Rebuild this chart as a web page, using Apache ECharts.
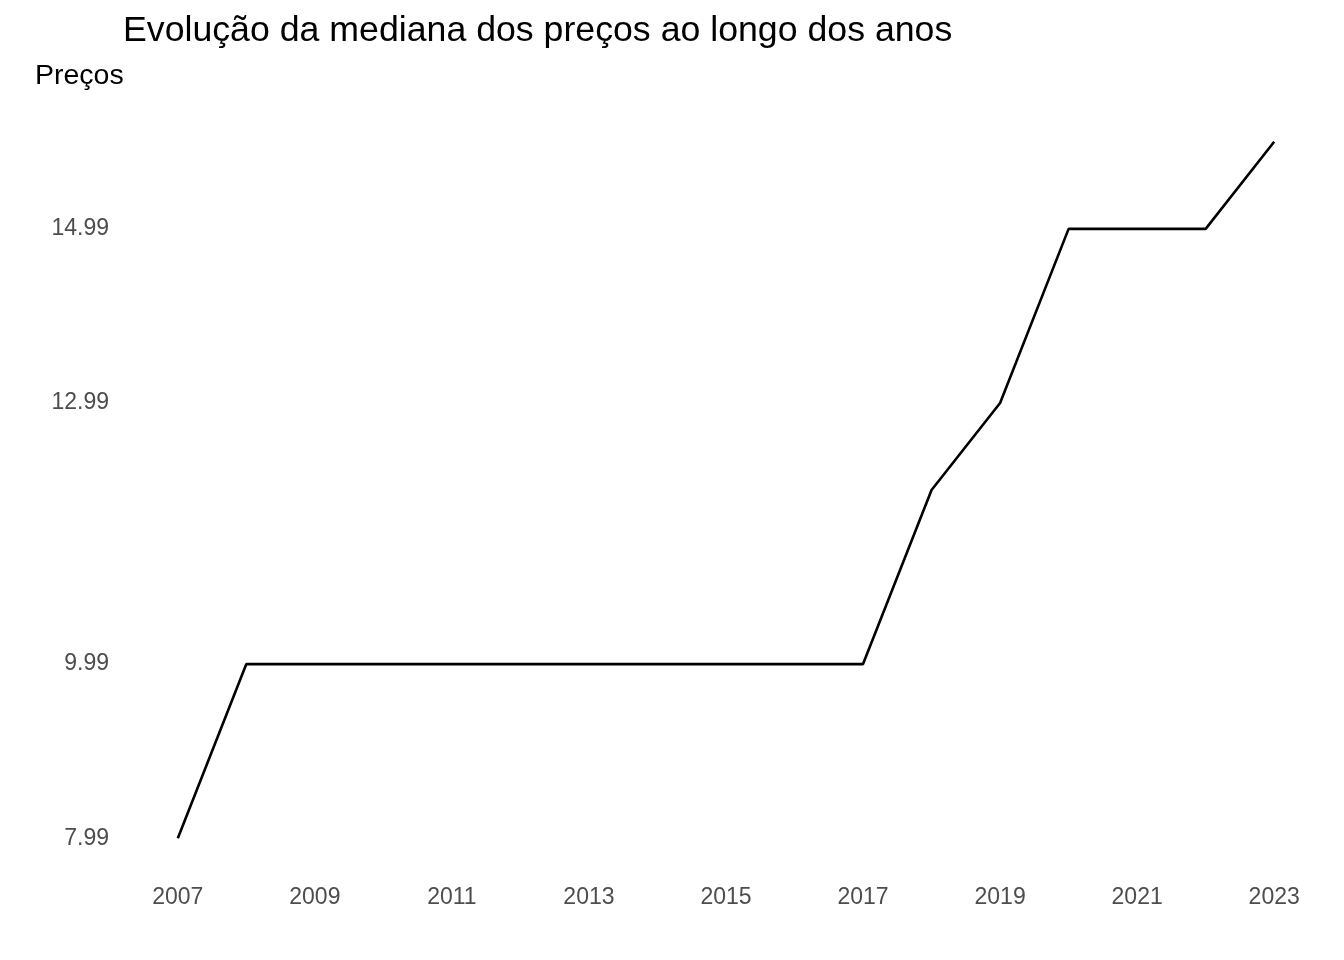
<!DOCTYPE html>
<html>
<head>
<meta charset="utf-8">
<script src="https://cdn.jsdelivr.net/npm/echarts@6/dist/echarts.min.js"></script>
<style>html,body{margin:0;padding:0;background:#fff}#c{width:1344px;height:960px}</style>
</head>
<body>
<div id="c"></div>
<script>
const years = [2007,2008,2009,2010,2011,2012,2013,2014,2015,2016,2017,2018,2019,2020,2021,2022,2023];
const prices = [7.99,9.99,9.99,9.99,9.99,9.99,9.99,9.99,9.99,9.99,9.99,11.99,12.99,14.99,14.99,14.99,15.99];
const yTicks = [7.99,9.99,12.99,14.99];
const xTicks = [2007,2009,2011,2013,2015,2017,2019,2021,2023];

const chart = echarts.init(document.getElementById('c'));
chart.setOption({
  animation: false,
  backgroundColor: '#ffffff',
  title: {
    text: 'Evolução da mediana dos preços ao longo dos anos',
    left: 118, top: 8,
    textStyle: {fontFamily: 'Liberation Sans', fontSize: 35.7, fontWeight: 'normal', color: '#000'}
  },
  graphic: [{
    type: 'text', left: 35, top: 62,
    style: {text: 'Preços', fontFamily: 'Liberation Sans', fontSize: 28.5, fill: '#000'}
  }],
  grid: {left: 123, right: 15, top: 107, bottom: 87, containLabel: false},
  xAxis: {
    type: 'value', min: 2006.2, max: 2023.8,
    axisLine: {show: false}, axisTick: {show: false}, splitLine: {show: false},
    axisLabel: {customValues: xTicks, margin: 13, color: '#4d4d4d', fontFamily: 'Liberation Sans', fontSize: 23, formatter: v => String(v)}
  },
  yAxis: {
    type: 'value', min: 7.59, max: 16.39,
    axisLine: {show: false}, axisTick: {show: false}, splitLine: {show: false},
    axisLabel: {customValues: yTicks, margin: 14, color: '#4d4d4d', fontFamily: 'Liberation Sans', fontSize: 23, formatter: v => v.toFixed(2)}
  },
  series: [{
    type: 'line',
    data: years.map((y, i) => [y, prices[i]]),
    showSymbol: false,
    lineStyle: {color: '#000', width: 2.6},
    itemStyle: {color: '#000'}
  }]
});
</script>
</body>
</html>
